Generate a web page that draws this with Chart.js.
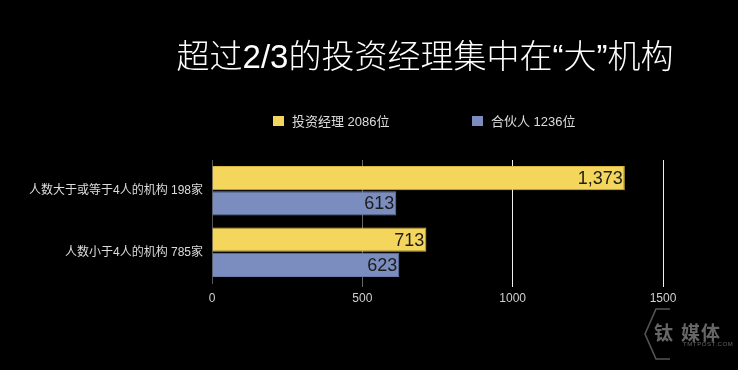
<!DOCTYPE html>
<html>
<head>
<meta charset="utf-8">
<script src="https://cdn.jsdelivr.net/npm/chart.js@4.4.1/dist/chart.umd.min.js"></script>
<style>
  html, body { margin: 0; padding: 0; background: #000; }
  #wrap { position: relative; width: 738px; height: 370px; overflow: hidden; font-family: "Liberation Sans", "Noto Sans CJK SC", sans-serif; }
  #title { position: absolute; left: 0; width: 850px; top: 30px; text-align: center; color: #fff; font-size: 33px; font-family: "Liberation Sans", "Noto Sans CJK SC", sans-serif; font-weight: 300; white-space: nowrap; }
  #legend { position: absolute; top: 111px; left: 273px; color: #ddd; font-size: 13px; font-family: "Liberation Sans", "Noto Sans CJK SC", sans-serif; white-space: nowrap; }
  .item { position: absolute; top: 0; }
  .item span.box { position: absolute; left: 0; top: 5px; width: 11px; height: 10px; }
  .item span.txt { position: absolute; left: 19px; top: 0; }
  #mark { position: absolute; left: 0; top: 0; width: 738px; height: 370px; }
  #mark .t { position: absolute; color: #666; font-family: "Noto Sans CJK SC", sans-serif; font-weight: bold; white-space: nowrap; }
  canvas { position: absolute; left: 0; top: 0; }
</style>
</head>
<body>
<div id="wrap">
  <canvas id="chart" width="738" height="370"></canvas>
  <div id="title">超过2/3的投资经理集中在“大”机构</div>
  <div id="legend"></div>
  <div id="mark">
    <svg width="738" height="370" style="position:absolute;left:0;top:0">
      <polyline points="670,309 656,309 645,334 656,359 670,359" fill="none" stroke="#555" stroke-width="1.6"/>
    </svg>
    <div class="t" style="left:654px;top:318px;font-size:19px;">钛</div>
    <div class="t" style="left:681px;top:318px;font-size:19px;letter-spacing:1px;">媒体</div>
    <div class="t" style="left:683px;top:341px;font-size:6px;font-weight:normal;font-family:'Liberation Sans',sans-serif;letter-spacing:0.6px;">TMTPOST.COM</div>
  </div>
</div>
<script>
// data
const categories = ['人数大于或等于4人的机构 198家', '人数小于4人的机构 785家'];
const seriesNames = ['投资经理 2086位', '合伙人 1236位'];
const managers = [1373, 713];
const partners = [613, 623];
const xTicks = [0, 500, 1000, 1500];

const YELLOW = '#f5d65c';
const BLUE = '#7a8dbe';

// value labels drawn at the end of each bar
const barLabels = {
  id: 'barLabels',
  afterDatasetsDraw(chart) {
    const ctx = chart.ctx;
    ctx.save();
    ctx.font = '18px "Liberation Sans", Arial, sans-serif';
    ctx.fillStyle = '#1c1c1c';
    ctx.textAlign = 'right';
    ctx.textBaseline = 'middle';
    chart.data.datasets.forEach((ds, i) => {
      chart.getDatasetMeta(i).data.forEach((bar, j) => {
        ctx.fillText(ds.data[j].toLocaleString('en-US'), bar.x - 2, bar.y + 1);
      });
    });
    ctx.restore();
  }
};

const chart = new Chart(document.getElementById('chart'), {
  type: 'bar',
  data: {
    labels: categories,
    datasets: [
      {
        label: seriesNames[0],
        data: managers,
        backgroundColor: YELLOW,
        borderColor: '#d8b640',
        borderWidth: 1,
        barPercentage: 0.97,
        categoryPercentage: 0.82
      },
      {
        label: seriesNames[1],
        data: partners,
        backgroundColor: BLUE,
        borderColor: '#6a7cab',
        borderWidth: 1,
        barPercentage: 0.97,
        categoryPercentage: 0.82
      }
    ]
  },
  options: {
    indexAxis: 'y',
    responsive: false,
    animation: false,
    layout: {
      padding: { left: 0, right: 75, top: 160, bottom: 57 }
    },
    plugins: {
      legend: { display: false },
      title: { display: false },
      tooltip: { enabled: false }
    },
    scales: {
      x: {
        min: 0,
        max: 1500,
        afterBuildTicks(scale) {
          scale.ticks = xTicks.map(v => ({ value: v }));
        },
        afterFit(scale) { scale.height = 30; },
        border: { display: false },
        grid: {
          drawTicks: true,
          tickLength: 4,
          color(ctx) {
            const v = ctx.tick ? ctx.tick.value : 0;
            if (v === 0) return 'rgba(0,0,0,0)';
            return v === 500 ? '#666' : '#f0f0f0';
          },
          lineWidth: 1
        },
        ticks: {
          color: '#cfcfcf',
          padding: 4,
          font: { size: 12, family: '"Liberation Sans", Arial, sans-serif' },
          callback: v => String(v)
        }
      },
      y: {
        afterFit(scale) { scale.width = 212; },
        border: { display: true, color: '#555', width: 1 },
        grid: { display: false, drawTicks: false },
        ticks: {
          color: '#dcdcdc',
          padding: 9,
          font: { size: 12, family: '"Liberation Sans", "Noto Sans CJK SC", sans-serif' }
        }
      }
    }
  },
  plugins: [barLabels]
});

// html legend from the datasets
const legendEl = document.getElementById('legend');
const legendX = [0, 199];
chart.data.datasets.forEach((ds, i) => {
  const item = document.createElement('div');
  item.className = 'item';
  item.style.left = legendX[i] + 'px';
  item.innerHTML = '<span class="box" style="background:' + ds.backgroundColor + '"></span><span class="txt">' + ds.label + '</span>';
  legendEl.appendChild(item);
});
</script>
</body>
</html>
